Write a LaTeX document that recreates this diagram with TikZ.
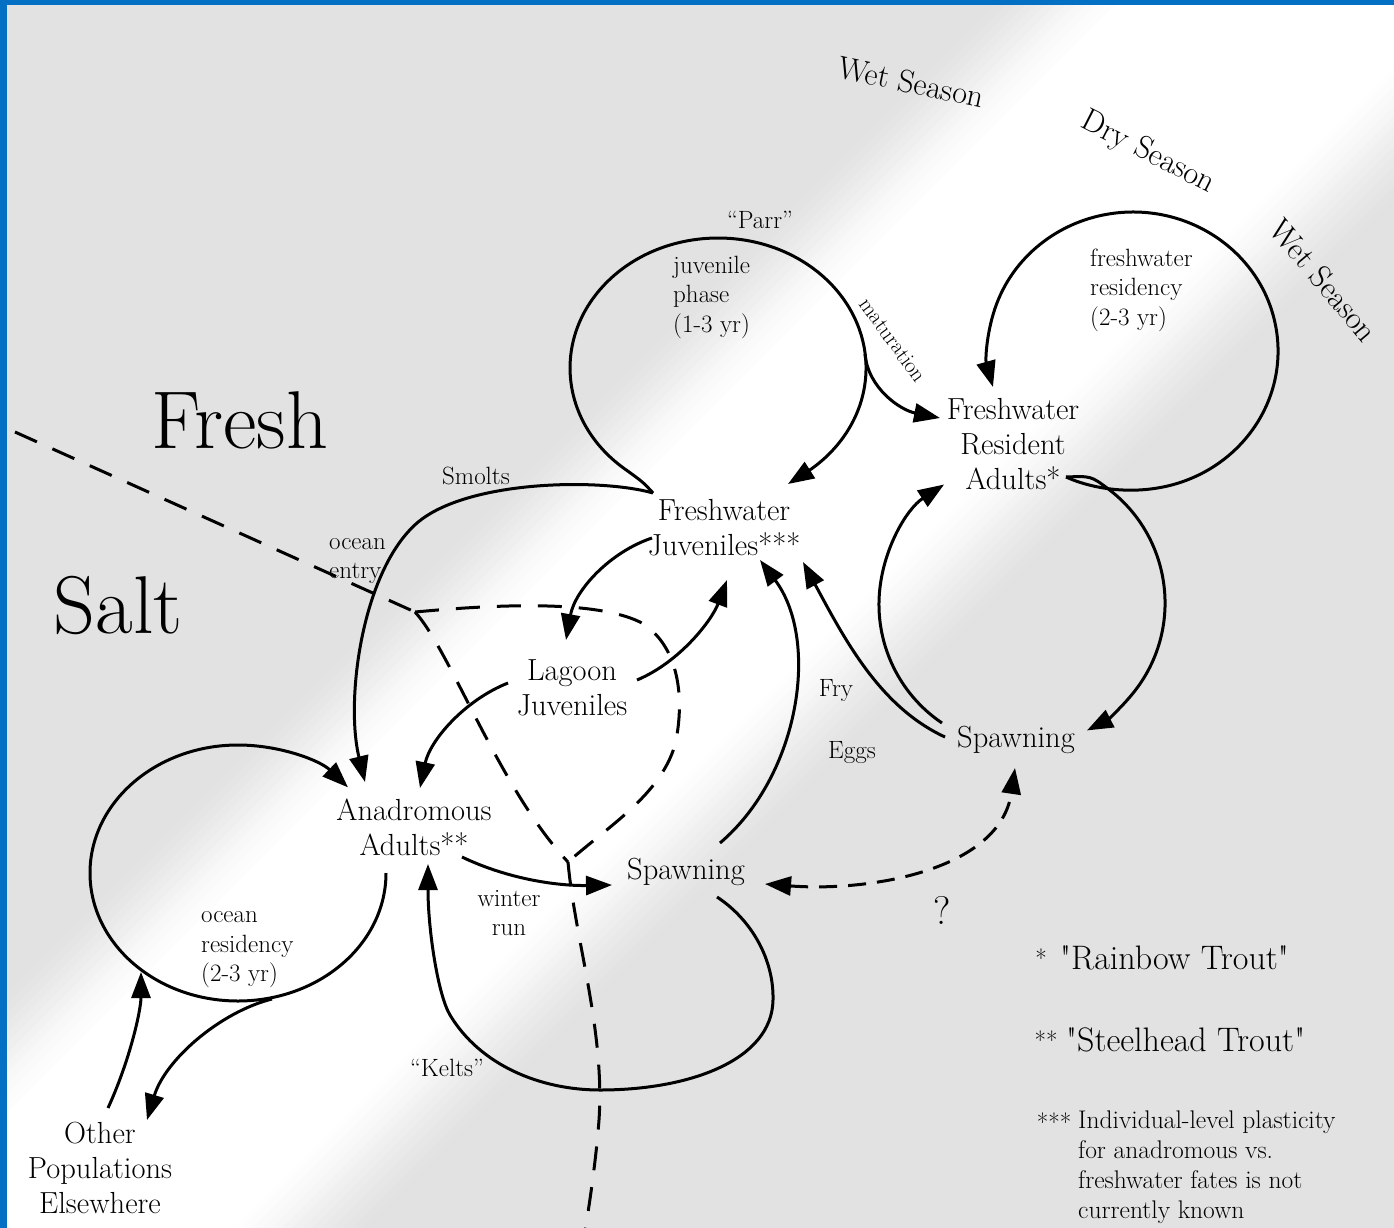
\documentclass[tikz,border=0pt]{standalone}
\usepackage{fontspec}
\usetikzlibrary{arrows.meta}
\definecolor{bggray}{RGB}{226,226,226}
\definecolor{frameblue}{RGB}{4,112,196}
\tikzset{
  flow/.style={line width=3pt,-{Triangle[length=26pt,width=19pt]}},
  twoway/.style={line width=3pt,dash pattern=on 18pt off 11pt,{Triangle[length=26pt,width=19pt]}-{Triangle[length=26pt,width=19pt]}},
  bound/.style={line width=3pt,dash pattern=on 24pt off 17pt},
  mainlbl/.style={font=\fontsize{30.5}{35}\selectfont,align=center,inner sep=0pt},
  smalllbl/.style={font=\fontsize{25}{29.5}\selectfont,align=left,inner sep=0pt},
  biglbl/.style={font=\fontsize{82}{88}\selectfont,inner sep=0pt},
  seasonlbl/.style={font=\fontsize{32}{34}\selectfont,inner sep=0pt},
  legendlbl/.style={font=\fontsize{34}{38}\selectfont,inner sep=0pt,anchor=west},
  notelbl/.style={font=\fontsize{25.5}{30}\selectfont,inner sep=0pt,align=left,anchor=north west},
  starlbl/.style={font=\fontsize{25}{26}\selectfont,inner sep=0pt}
}
\begin{document}
\begin{tikzpicture}[x=1pt,y=-1pt]
\useasboundingbox (0,0) rectangle (1394,1228);
% background with light diagonal band
\begin{scope}
\clip (0,0) rectangle (1394,1228);
\fill[bggray] (0,0) rectangle (1394,1228);
\foreach \s in {960,970,...,1620} {
  \pgfmathsetmacro\w{max(0,min(1,min((\s-980)/150,(1600-\s)/160)))}
  \pgfmathsetmacro\p{100*\w*\w*(3-2*\w)}
  \fill[white!\p!bggray] (\s,0) -- (\s+11,0) -- (\s+11-1228,1228) -- (\s-1228,1228) -- cycle;
}
\fill[frameblue] (0,0) rectangle (7,1228);
\fill[frameblue] (0,0) rectangle (1394,5);
\end{scope}

% text nodes
\node[biglbl] (fresh) at (240,420) {Fresh};
\node[biglbl] (salt) at (118,605) {Salt};
\node[seasonlbl,rotate=-12] (wet1) at (911,82) {Wet Season};
\node[seasonlbl,rotate=-27] (dry) at (1148,153) {Dry Season};
\node[seasonlbl,rotate=-50] (wet2) at (1324,280) {Wet Season};

\node[mainlbl] (fj) at (724,528) {Freshwater\\Juveniles***};
\node[mainlbl] (fra) at (1013,444) {Freshwater\\Resident\\Adults*};
\node[mainlbl] (lj) at (572,688) {Lagoon\\Juveniles};
\node[mainlbl] (aa) at (414,827) {Anadromous\\Adults**};
\node[mainlbl] (sp1) at (1016,740) {Spawning};
\node[mainlbl] (sp2) at (686,872) {Spawning};
\node[mainlbl] (op) at (100,1168) {Other\\Populations\\Elsewhere};

\node[smalllbl] (parr) at (760,220) {``Parr''};
\node[smalllbl,anchor=west] (jph) at (673,297) {juvenile\\phase\\(1-3 yr)};
\node[smalllbl,anchor=west] (fwr) at (1090,290) {freshwater\\residency\\(2-3 yr)};
\node[smalllbl,anchor=west] (ocr) at (201,950) {ocean\\residency\\(2-3 yr)};
\node[smalllbl] (smolts) at (476,476) {Smolts};
\node[smalllbl,anchor=west] (oce) at (329,561) {ocean\\entry};
\node[smalllbl] (fry) at (836,691) {Fry};
\node[smalllbl] (eggs) at (852,753) {Eggs};
\node[smalllbl,align=center] (wrun) at (509,913) {winter\\run};
\node[smalllbl] (kelts) at (447,1068) {``Kelts''};
\node[font=\fontsize{22}{24}\selectfont,inner sep=0pt,rotate=-54] (mat) at (893,340) {maturation};
\node[font=\fontsize{40}{42}\selectfont,inner sep=0pt] (qm) at (942,910) {?};

% legend
\node[starlbl] (st1) at (1041,958) {*};
\node[legendlbl] (rt) at (1060,958) {\textquotedbl Rainbow Trout\textquotedbl};
\node[starlbl] (st2) at (1046,1040) {**};
\node[legendlbl] (sh) at (1066,1040) {\textquotedbl Steelhead Trout\textquotedbl};
\node[starlbl] (st3) at (1054,1122) {***};
\node[notelbl] (note) at (1078,1111) {Individual-level plasticity\\for anadromous vs.\\freshwater fates is not\\currently known};

% connector end points
\coordinate (fjA) at (653,493);
\coordinate (fjB) at (788,484);
\coordinate (matA) at (865,354);
\coordinate (matB) at (940,418);
\coordinate (smB) at (365,782);
\coordinate (fraA) at (1066,477);
\coordinate (sp1A) at (942,723);
\coordinate (sp1C) at (945,737);
\coordinate (fryB) at (803,562);
\coordinate (sp2A) at (720,843);
\coordinate (eggB) at (760,560);
\coordinate (fjC) at (652,538);
\coordinate (ljB) at (566,640);
\coordinate (ljA) at (637,680);
\coordinate (fjD) at (727,580);
\coordinate (ljC) at (508,683);
\coordinate (aaB) at (420,788);
\coordinate (aaA) at (386,873);
\coordinate (opA) at (108,1108);
\coordinate (orB) at (141,972);
\coordinate (orA) at (272,999);
\coordinate (opB) at (147,1120);
\coordinate (aaD) at (462,857);
\coordinate (sp2B) at (612,885);
\coordinate (sp2C) at (717,897);
\coordinate (aaE) at (428,864);
\coordinate (sp2D) at (765,884);
\coordinate (sp1D) at (1015,768);
\coordinate (bd0) at (15,432);
\coordinate (bdS) at (415,612);
\coordinate (bdY) at (568,862);
\coordinate (bdE) at (585,1232);

% parr loop (juvenile phase)
\draw[flow] (fjA) .. controls (643,482) .. (622.9,467.6)
  arc[start angle=130, end angle=415, x radius=148, y radius=130] -- (fjB);
% maturation
\draw[flow] (matA) .. controls (868,388) and (900,410) .. (matB);
% smolts
\draw[flow] (fjA) .. controls (600,478) and (467,480) .. (417,523)
  .. controls (362,571) and (345,700) .. (smB);
% freshwater residency loop
\draw[flow] (fraA) .. controls (1088,487) and (1122,494) .. (1158.2,487.9)
  arc[start angle=80, end angle=-195, x radius=145, y radius=139];
% resident adults to spawning
\draw[flow] (fraA) .. controls (1091,476) .. (1108.1,488.8)
  arc[start angle=-53, end angle=63, radius=143];
% spawning to resident adults
\draw[flow] (sp1A) arc[start angle=124, end angle=237, radius=143];
% fry
\draw[flow] (sp1C) .. controls (880,707) and (845,640) .. (fryB);
% eggs
\draw[flow] (sp2A) .. controls (800,775) and (820,640) .. (eggB);
% juveniles to lagoon
\draw[flow] (fjC) .. controls (610,552) and (575,590) .. (ljB);
% lagoon to juveniles
\draw[flow] (ljA) .. controls (680,662) and (712,620) .. (fjD);
% lagoon to anadromous
\draw[flow] (ljC) .. controls (465,700) and (430,740) .. (aaB);
% ocean residency loop
\draw[flow] (aaA) arc[start angle=0, end angle=318, x radius=148, y radius=128];
% other populations in / out
\draw[flow] (opA) .. controls (130,1060) and (141,1010) .. (orB);
\draw[flow] (orA) .. controls (220,1012) and (165,1060) .. (opB);
% winter run
\draw[flow] (aaD) .. controls (510,880) and (560,886) .. (sp2B);
% kelts loop
\draw[flow] (sp2C) .. controls (752,920) and (774,960) .. (773,1000)
  .. controls (772,1060) and (690,1090) .. (600,1090)
  .. controls (540,1090) and (480,1065) .. (450,1015)
  .. controls (438,995) and (428,930) .. (aaE);
% uncertain link
\draw[twoway] (sp2D) .. controls (870,892) and (1000,870) .. (sp1D);

% fresh/salt boundary
\draw[bound] (bd0) -- (bdS);
\draw[bound] (bdS) .. controls (480,606) and (590,598) .. (640,622)
  .. controls (680,645) and (685,700) .. (675,745)
  .. controls (660,795) and (610,825) .. (bdY);
\draw[bound] (bdS) .. controls (450,650) and (500,790) .. (bdY);
\draw[bound] (bdY) .. controls (575,940) and (605,1030) .. (599,1120)
  .. controls (596,1160) and (590,1200) .. (bdE);
\end{tikzpicture}
\end{document}
